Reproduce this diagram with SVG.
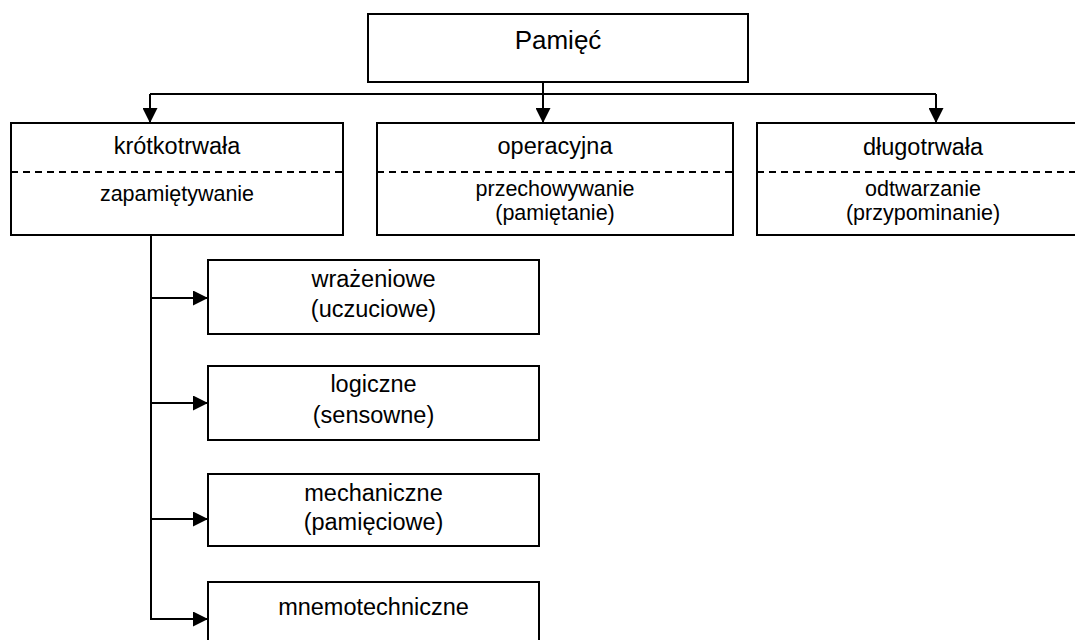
<svg xmlns="http://www.w3.org/2000/svg" width="1075" height="640" viewBox="0 0 1075 640">
<defs>
<marker id="arr" viewBox="0 0 15 15" refX="15" refY="7.5" markerWidth="15" markerHeight="15" markerUnits="userSpaceOnUse" orient="auto">
<path d="M0,0 L15,7.5 L0,15 Z" fill="#000"/>
</marker>
<style>
.box{fill:#fff;stroke:#000;stroke-width:2}
.dash{stroke:#000;stroke-width:2;stroke-dasharray:7 5;fill:none}
.ln{stroke:#000;stroke-width:2;fill:none}
text{font-family:"Liberation Sans",Arial,sans-serif;fill:#000;text-anchor:middle}
.t1{font-size:23.5px}
.t2{font-size:21.5px}
.t0{font-size:26px}
</style>
</defs>
<rect width="1075" height="640" fill="#fff"/>
<g id="connectors">
<path class="ln" d="M543,82 V94 M150,94 H936"/>
<path class="ln" d="M150,94 V123" marker-end="url(#arr)"/>
<path class="ln" d="M543,94 V123" marker-end="url(#arr)"/>
<path class="ln" d="M936,94 V123" marker-end="url(#arr)"/>
<path class="ln" d="M151,235 V619"/>
<path class="ln" d="M150,298 H208" marker-end="url(#arr)"/>
<path class="ln" d="M150,403 H208" marker-end="url(#arr)"/>
<path class="ln" d="M150,519 H208" marker-end="url(#arr)"/>
<path class="ln" d="M150,619 H208" marker-end="url(#arr)"/>
</g>
<g id="pamiec">
<rect class="box" x="368" y="14" width="380" height="68"/>
<text class="t0" x="558" y="49">Pamięć</text>
</g>
<g id="krotkotrwala">
<rect class="box" x="11" y="123" width="332" height="112"/>
<line class="dash" x1="11" y1="172" x2="343" y2="172"/>
<text class="t1" x="177" y="154">krótkotrwała</text>
<text class="t2" x="177" y="201">zapamiętywanie</text>
</g>
<g id="operacyjna">
<rect class="box" x="377" y="123" width="356" height="112"/>
<line class="dash" x1="377" y1="172" x2="733" y2="172"/>
<text class="t1" x="555" y="154">operacyjna</text>
<text class="t2" x="555" y="196">przechowywanie</text>
<text class="t2" x="555" y="220">(pamiętanie)</text>
</g>
<g id="dlugotrwala">
<rect class="box" x="757" y="123" width="332" height="112"/>
<line class="dash" x1="757" y1="172" x2="1089" y2="172"/>
<text class="t1" x="923" y="155">długotrwała</text>
<text class="t2" x="923" y="196">odtwarzanie</text>
<text class="t2" x="923" y="220">(przypominanie)</text>
</g>
<g id="wrazeniowe">
<rect class="box" x="208" y="260" width="331" height="74"/>
<text class="t1" x="373.5" y="287">wrażeniowe</text>
<text class="t1" x="373.5" y="317">(uczuciowe)</text>
</g>
<g id="logiczne">
<rect class="box" x="208" y="366" width="331" height="74"/>
<text class="t1" x="373.5" y="392">logiczne</text>
<text class="t1" x="373.5" y="423">(sensowne)</text>
</g>
<g id="mechaniczne">
<rect class="box" x="208" y="474" width="331" height="72"/>
<text class="t1" x="373.5" y="501">mechaniczne</text>
<text class="t1" x="373.5" y="530">(pamięciowe)</text>
</g>
<g id="mnemotechniczne">
<rect class="box" x="208" y="582" width="331" height="74"/>
<text class="t1" x="373.5" y="615">mnemotechniczne</text>
</g>
</svg>
